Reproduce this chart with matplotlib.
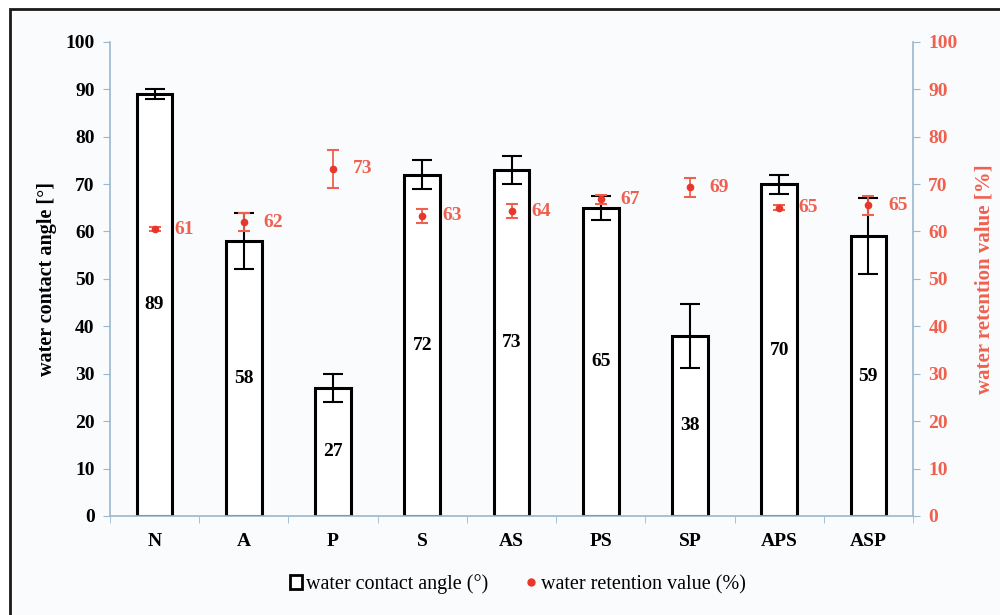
import numpy as np
import matplotlib.pyplot as plt
from matplotlib import rcParams
from matplotlib.lines import Line2D
from matplotlib.patches import Patch, Rectangle

rcParams['font.family'] = 'serif'
rcParams['font.serif'] = ['Liberation Serif', 'DejaVu Serif']

# data
samples = ['N', 'A', 'P', 'S', 'AS', 'PS', 'SP', 'APS', 'ASP']
contact_angle = [89, 58, 27, 72, 73, 65, 38, 70, 59]
contact_err = [1, 6, 3, 3, 3, 2.5, 6.7, 2, 8]
retention = [60.5, 62, 73.2, 63.3, 64.3, 66.8, 69.3, 65, 65.5]
retention_err = [0.5, 2, 4, 1.5, 1.5, 1, 2, 0.5, 2]
retention_labels = ['61', '62', '73', '63', '64', '67', '69', '65', '65']

RED = '#f0604f'
MARK_RED = '#e8372a'
SPINE = '#9bb8cc'

fig = plt.figure(figsize=(10, 6.15), dpi=100)
fig.patch.set_facecolor('white')
# light panel with black frame line (left and top visible)
fig.patches.append(Rectangle((0.01, -0.05), 1.2, 1.035, transform=fig.transFigure,
                             facecolor='#fafbfd', edgecolor='#1a1a1a', linewidth=2, zorder=-5))

ax = fig.add_axes([0.11, 0.161, 0.803, 0.771])
ax.set_facecolor('none')
x = np.arange(len(samples))

ax.bar(x, contact_angle, width=0.4, facecolor='white', edgecolor='black', linewidth=2.2, zorder=2)
ax.errorbar(x, contact_angle, yerr=contact_err, fmt='none', ecolor='black',
            elinewidth=1.5, capsize=7, capthick=1.5, zorder=3)
for xi, v in zip(x, contact_angle):
    ax.text(xi, v / 2, str(v), ha='center', va='center', fontsize=14, fontweight='bold', zorder=4)

ax.set_xlim(-0.5, len(samples) - 0.5)
ax.set_ylim(0, 100)
ax.set_yticks(np.arange(0, 101, 10))
ax.set_xticks(x)
ax.set_xticklabels(samples)
ax.set_xticks(np.arange(-0.5, len(samples), 1), minor=True)
ax.tick_params(axis='x', which='major', length=0, pad=12, labelsize=14)
ax.tick_params(axis='x', which='minor', length=5, color=SPINE, direction='out')
ax.tick_params(axis='y', length=5, color=SPINE, direction='out', labelsize=14, pad=6)
for lab in ax.get_xticklabels() + ax.get_yticklabels():
    lab.set_fontweight('bold')
ax.set_ylabel('water contact angle [°]', fontsize=14.5, fontweight='bold', labelpad=6)
for s in ['top', 'right']:
    ax.spines[s].set_visible(False)
for s in ['left', 'bottom']:
    ax.spines[s].set_color(SPINE)
    ax.spines[s].set_linewidth(1.2)

ax2 = ax.twinx()
ax2.set_ylim(0, 100)
ax2.set_yticks(np.arange(0, 101, 10))
ax2.errorbar(x, retention, yerr=retention_err, fmt='o', color=MARK_RED, markersize=4.5,
             ecolor=RED, elinewidth=1.3, capsize=4.5, capthick=1.5, zorder=5)
for xi, v, lab in zip(x, retention, retention_labels):
    ax2.text(xi + 0.22, v, lab, ha='left', va='center', fontsize=14, fontweight='bold', color=RED)
ax2.tick_params(axis='y', length=5, color=SPINE, direction='out', labelsize=14, labelcolor=RED, pad=6)
for lab in ax2.get_yticklabels():
    lab.set_fontweight('bold')
ax2.set_ylabel('water retention value [%]', fontsize=15, fontweight='bold', color=RED, labelpad=12)
for s in ['top', 'left', 'bottom']:
    ax2.spines[s].set_visible(False)
ax2.spines['right'].set_color(SPINE)
ax2.spines['right'].set_linewidth(1.2)

handles = [Patch(facecolor='white', edgecolor='black', linewidth=2, label='water contact angle (°)'),
           Line2D([], [], marker='o', linestyle='none', color=MARK_RED, markersize=5,
                  label='water retention value (%)')]
fig.legend(handles=handles, loc='center', bbox_to_anchor=(0.518, 0.05), ncol=2, frameon=False,
           fontsize=14.5, handlelength=0.6, handletextpad=0.2, columnspacing=1.8)

fig.savefig('out.png', dpi=100)
